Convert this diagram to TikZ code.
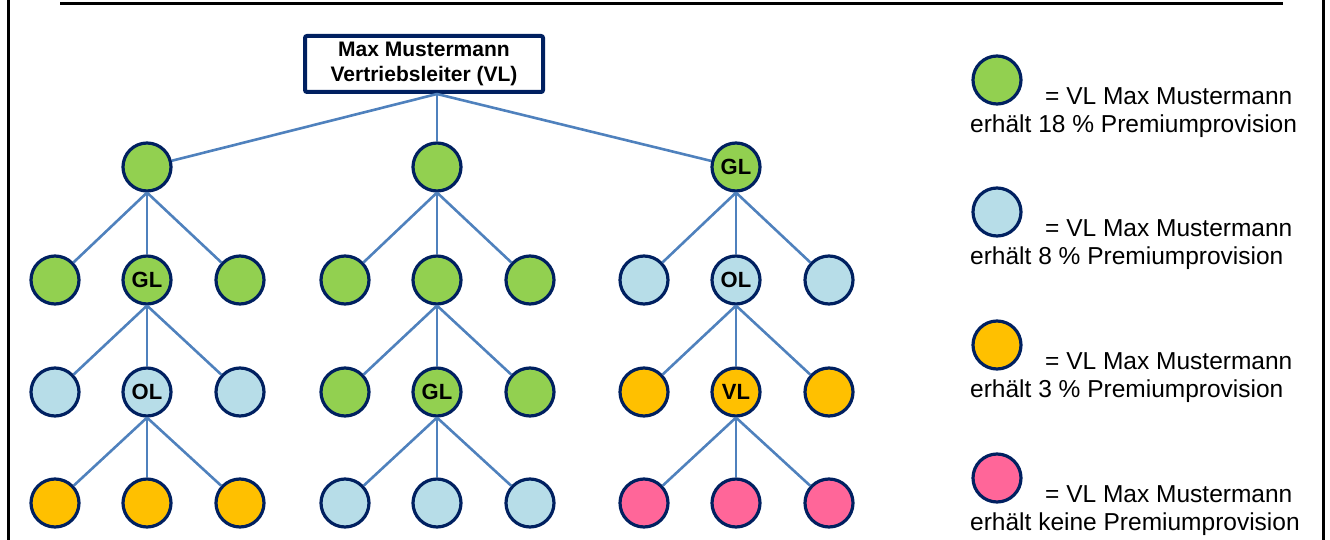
\documentclass[tikz,border=0pt]{standalone}
\usepackage{fontspec}
\setmainfont{Liberation Sans}
\definecolor{NavyLine}{RGB}{0,32,96}
\definecolor{LinkBlue}{RGB}{79,129,189}
\definecolor{LevelGreen}{RGB}{146,208,80}
\definecolor{LevelBlue}{RGB}{183,221,232}
\definecolor{LevelOrange}{RGB}{255,192,0}
\definecolor{LevelPink}{RGB}{255,102,153}
\usetikzlibrary{positioning}
\tikzset{
    member/.style={circle, draw=NavyLine, line width=3.2pt, minimum size=48pt, inner sep=0pt,
        font=\bfseries\fontsize{22}{22}\selectfont},
    link/.style={draw=LinkBlue, line width=2.6pt},
    legendtext/.style={anchor=west, inner sep=0pt, font=\fontsize{24.5}{24.5}\selectfont},
}

\begin{document}
\begin{tikzpicture}[x=1pt, y=-1pt]
    \useasboundingbox (0,0) rectangle (1330,540);
    % frame and cut-off heading rule
    \draw[line width=3pt] (8,0) -- (8,540);
    \draw[line width=3pt] (1323,0) -- (1323,540);
    \draw[line width=3pt] (60,3.5) -- (1283,3.5);

    \node[rectangle, rounded corners=2pt, draw=NavyLine, line width=4pt, minimum width=238pt, minimum height=56pt,
        align=center, font=\bfseries\fontsize{21}{25}\selectfont] (boss) at (424,64)
        {Max Mustermann\\Vertriebsleiter (VL)};
    \coordinate (bossfoot) at (437,94);

    % three branches, four levels
    \foreach \g/\x/\cA/\cB/\cC/\cD/\tA/\tB/\tC in {
        a/147/LevelGreen/LevelGreen/LevelBlue/LevelOrange/{}/GL/OL,
        b/437/LevelGreen/LevelGreen/LevelGreen/LevelBlue/{}/{}/GL,
        c/736/LevelGreen/LevelBlue/LevelOrange/LevelPink/GL/OL/VL}
    {
        \node[member, fill=\cA] (\g1) at (\x,167) {\tA};
        \draw[link] (bossfoot) -- (\g1);
        \node[member, fill=\cB] (\g2l) at (\x-92,280) {};
        \node[member, fill=\cB] (\g2m) at (\x,280) {\tB};
        \node[member, fill=\cB] (\g2r) at (\x+93,280) {};
        \node[member, fill=\cC] (\g3l) at (\x-92,392) {};
        \node[member, fill=\cC] (\g3m) at (\x,392) {\tC};
        \node[member, fill=\cC] (\g3r) at (\x+93,392) {};
        \node[member, fill=\cD] (\g4l) at (\x-92,503) {};
        \node[member, fill=\cD] (\g4m) at (\x,503) {};
        \node[member, fill=\cD] (\g4r) at (\x+93,503) {};
        \foreach \lv/\up in {2/1, 3/2m, 4/3m} {
            \draw[link] (\g\up.south) -- (\g\lv l);
            \draw[link] (\g\up.south) -- (\g\lv m);
            \draw[link] (\g\up.south) -- (\g\lv r);
        }
    }

    % legend
    \foreach \i/\y/\col/\share in {1/80/LevelGreen/18 \%, 2/212/LevelBlue/8 \%, 3/345/LevelOrange/3 \%, 4/478/LevelPink/keine} {
        \node[member, fill=\col] (key\i) at (997,\y) {};
        \node[legendtext] (keytop\i) at (1045,\y+16) {= VL Max Mustermann};
        \node[legendtext] (keybottom\i) at (970,\y+46) {erhält \share{} Premiumprovision};
    }
\end{tikzpicture}
\end{document}
